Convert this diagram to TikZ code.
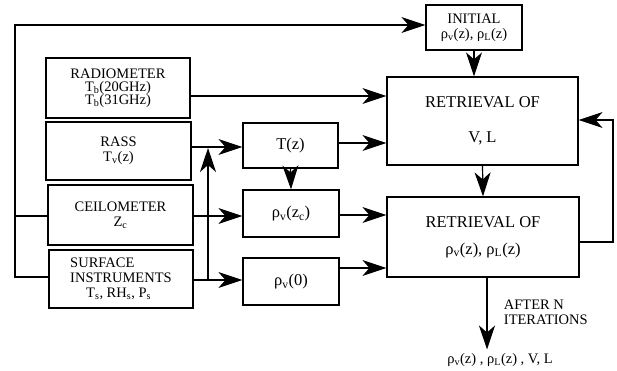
\documentclass[tikz,border=0pt]{standalone}
\usepackage{fontspec}
\setmainfont{Liberation Serif}
\usetikzlibrary{arrows.meta}

\begin{document}
\begin{tikzpicture}[x=1pt,y=-1pt,line width=1.2pt,
    font=\fontsize{14.5}{15}\selectfont,
    blk/.style={draw, align=center, inner sep=0pt},
    big/.style={font=\fontsize{16.5}{17}\selectfont},
    arr/.style={-{Stealth[length=24pt,width=16pt,inset=7pt]}}]
    \useasboundingbox (0,0) rectangle (617,371);
    % instruments
    \node[blk, minimum width=144, minimum height=60] (radio) at (118,88) {RADIOMETER\\[-2pt]T\textsubscript{b}(20GHz)\\[-2pt]T\textsubscript{b}(31GHz)};
    \node[blk, minimum width=145, minimum height=58] (rass) at (118.5,151) {RASS\\T\textsubscript{v}(z)};
    \node[blk, minimum width=145, minimum height=60] (ceil) at (120.5,215) {CEILOMETER\\Z\textsubscript{c}};
    \node[blk, minimum width=144, minimum height=58, align=left] (surf) at (121,279) {SURFACE\\INSTRUMENTS\\\hspace*{1.1em}T\textsubscript{s}, RH\textsubscript{s}, P\textsubscript{s}};
    % profiles
    \node[blk, big, minimum width=95, minimum height=45] (tz) at (290.5,145.5) {T(z)};
    \node[blk, big, minimum width=96, minimum height=47] (rvzc) at (291,213.5) {ρ\textsubscript{v}(z\textsubscript{c})};
    \node[blk, big, minimum width=96, minimum height=47] (rv0) at (291,281.5) {ρ\textsubscript{v}(0)};
    % retrieval
    \node[blk, minimum width=96, minimum height=45] (init) at (474,27.5) {INITIAL\\ρ\textsubscript{v}(z), ρ\textsubscript{L}(z)};
    \node[blk, big, minimum width=191, minimum height=88] (retvl) at (482.5,121) {RETRIEVAL OF\\[18pt]V,  L};
    \node[blk, big, minimum width=192, minimum height=80] (retrho) at (483,237) {RETRIEVAL OF\\[10pt]ρ\textsubscript{v}(z), ρ\textsubscript{L}(z)};
    \node (out) at (500,360) {ρ\textsubscript{v}(z) , ρ\textsubscript{L}(z) ,  V,  L};
    \node[anchor=west, align=left] (iter) at (500,312) {AFTER N\\ITERATIONS};

    \draw[arr] (radio.east |- 0,96) -- (retvl.west |- 0,96);
    \draw[arr] (rass.east |- 0,147) -- (tz.west |- 0,147);
    \draw[arr] (tz.east |- 0,143) -- (retvl.west |- 0,143);
    \draw[arr] (tz.south) -- (rvzc.north);
    \draw[arr] (ceil.east |- 0,216) -- (rvzc.west |- 0,216);
    \draw[arr] (surf.east |- 0,280) -- (rv0.west |- 0,280);
    \coordinate (jn) at (208,280);
    \coordinate (up) at (208,148);
    \draw[arr] (jn) -- (up);
    % loop round the left side to the initial profiles
    \draw (ceil.west |- 0,216) -- (15,216);
    \draw[arr] (surf.west |- 0,277) -- (15,277) -- (15,25) -- (init.west |- 0,25);
    \draw[arr] (init.south) -- (init.south |- retvl.north);
    \draw[arr] (retvl.south) -- (retrho.north);
    \draw[arr] (rvzc.east |- 0,215) -- (retrho.west |- 0,215);
    \draw[arr] (rv0.east |- 0,268) -- (retrho.west |- 0,268);
    % iteration back to V, L
    \draw[arr] (retrho.east |- 0,242) -- (613,242) -- (613,120) -- (retvl.east |- 0,120);
    \draw[arr] ([xshift=4]retrho.south) -- ([xshift=4]retrho.south |- out.north);
\end{tikzpicture}
\end{document}
